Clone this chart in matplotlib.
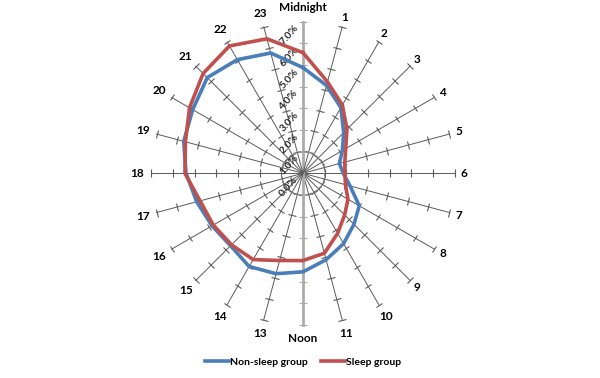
#!/usr/bin/env python3
# -*- coding: utf-8 -*-
"""Radar chart: hourly distribution, non-sleep vs sleep group."""

import numpy as np
import matplotlib
matplotlib.use('Agg')
import matplotlib.pyplot as plt
from matplotlib.lines import Line2D
from matplotlib.markers import MarkerStyle
from matplotlib.transforms import Affine2D

plt.rcParams['font.family'] = ['Lato', 'DejaVu Sans']

# data (percent per hour, 0 = midnight)
hours = list(range(24))
hour_labels = ['Midnight'] + [str(h) for h in range(1, 12)] + ['Noon'] + [str(h) for h in range(13, 24)]
non_sleep = [4.88, 4.20, 3.50, 2.66, 2.10, 1.74, 1.86, 2.25, 3.00, 3.33, 3.75, 4.13,
             4.55, 4.80, 4.97, 4.73, 4.85, 5.08, 5.40, 5.70, 5.88, 6.25, 6.06, 5.75]
sleep = [5.57, 4.37, 3.64, 2.87, 2.28, 2.00, 1.94, 2.03, 2.40, 2.72, 3.20, 3.82,
         4.03, 4.17, 4.60, 4.67, 4.78, 4.92, 5.45, 5.62, 6.05, 6.52, 6.79, 6.43]
radial_ticks = [0, 1, 2, 3, 4, 5, 6, 7]
series_names = ['Non-sleep group', 'Sleep group']

BLUE = '#4A7EBB'
RED = '#C0504D'
SPOKE = '#5A5A5A'
VALUE_AXIS = '#ABABAB'

fig = plt.figure(figsize=(6.0, 3.78), dpi=100)
ax = fig.add_axes([0.2523, 0.1405, 0.5053, 0.8021], projection='polar')
ax.set_theta_zero_location('N')
ax.set_theta_direction(-1)
ax.set_ylim(0, 7)
ax.axis('off')

theta = np.deg2rad(np.array(hours) * 15.0)
rmax = radial_ticks[-1]

# spokes with small cross ticks
for h, t in zip(hours, theta):
    is_value_axis = h in (0, 12)
    col = VALUE_AXIS if is_value_axis else SPOKE
    lw = 2.0 if is_value_axis else 0.7
    ax.plot([t, t], [0, rmax], color=col, lw=lw, zorder=1, clip_on=False)
    mk = MarkerStyle('_', transform=Affine2D().rotate_deg(-h * 15.0))
    ax.plot([t] * (len(radial_ticks) - 1), radial_ticks[1:], linestyle='none',
            marker=mk, markersize=5.5, markeredgewidth=0.8, color=col, zorder=1, clip_on=False)

# dashed ring at 1%
ring = np.linspace(0, 2 * np.pi, 200)
ax.plot(ring, np.full_like(ring, 1.0), color='#8C8C8C', lw=0.7, ls=(0, (3, 2)), zorder=1)

# value axis labels (rotated, left of the midnight axis)
for v in radial_ticks:
    ax.annotate(f'{v:.1f}%', xy=(0, v), xytext=(-4.5, -3.5), textcoords='offset points',
                ha='right', va='center', rotation=48, rotation_mode='anchor',
                fontsize=7.5, fontweight='bold', color='#262626', zorder=3)

# hour labels
for h, t, lab in zip(hours, theta, hour_labels):
    r = 7.45 if len(lab) == 1 else 7.65
    ax.text(t, r, lab, ha='center', va='center', fontsize=8.5, fontweight='bold',
            color='black', clip_on=False)

# series (closed polygons)
th_c = np.append(theta, theta[0])
ax.plot(th_c, non_sleep + non_sleep[:1], color=BLUE, lw=2.6, solid_joinstyle='round', zorder=4)
ax.plot(th_c, sleep + sleep[:1], color=RED, lw=2.6, solid_joinstyle='round', zorder=5)

handles = [Line2D([], [], color=BLUE, lw=2.6), Line2D([], [], color=RED, lw=2.6)]
fig.legend(handles, series_names, loc='center', bbox_to_anchor=(0.505, 0.042), ncol=2,
           frameon=False, handlelength=2.3, handletextpad=0.1,
           columnspacing=1.3, prop={'size': 7.5, 'weight': 'bold'})

fig.savefig('out.png', dpi=100)
